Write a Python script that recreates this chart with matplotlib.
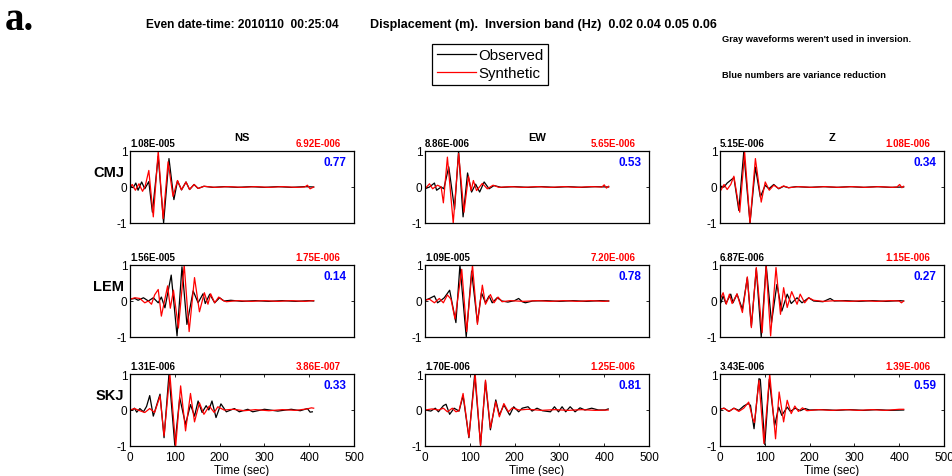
import matplotlib
matplotlib.use("Agg")
import matplotlib.pyplot as plt
import numpy as np
from matplotlib.lines import Line2D

plt.rcParams["font.family"] = ["Liberation Sans", "DejaVu Sans"]

STATIONS = ["CMJ", "LEM", "SKJ"]
COMPONENTS = ["NS", "EW", "Z"]
OBS_MAX = [["1.08E-005", "8.86E-006", "5.15E-006"],
           ["1.56E-005", "1.09E-005", "6.87E-006"],
           ["1.31E-006", "1.70E-006", "3.43E-006"]]
SYN_MAX = [["6.92E-006", "5.65E-006", "1.08E-006"],
           ["1.75E-006", "7.20E-006", "1.15E-006"],
           ["3.86E-007", "1.25E-006", "1.39E-006"]]
VAR_RED = [[0.77, 0.53, 0.34],
           [0.14, 0.78, 0.27],
           [0.33, 0.81, 0.59]]

# normalised waveforms, (time s, amplitude)
CMJ_NS_OBS = [(0, 0.03), (7, -0.02), (13, 0.11), (18, -0.09), (26, 0.14), (33, -0.05), (42, 0.15), (50, -0.7),
              (63, 0.85), (75, -1.0), (87, 0.79), (98, -0.35), (106, 0.17), (115, -0.08), (125, 0.14), (133, -0.07),
              (143, 0.07), (152, -0.04), (165, 0.02), (185, -0.01), (210, 0.01), (240, -0.01), (270, 0.01),
              (300, -0.01), (330, 0.01), (360, -0.01), (390, 0.01), (410, 0.0)]
CMJ_NS_SYN = [(0, 0.0), (5, 0.07), (12, -0.09), (20, 0.09), (28, -0.12), (34, 0.03), (42, 0.46), (52, -0.83),
              (63, 1.0), (74, -0.88), (85, 0.7), (96, -0.26), (106, 0.18), (115, -0.08), (125, 0.14), (133, -0.07),
              (143, 0.07), (152, -0.04), (165, 0.02), (190, -0.01), (220, 0.01), (250, -0.01), (280, 0.01),
              (310, -0.01), (340, 0.01), (370, -0.01), (390, 0.0), (396, 0.05), (402, -0.05), (410, 0.0)]
CMJ_EW_OBS = [(0, -0.05), (10, 0.0), (21, 0.11), (26, -0.09), (36, 0.0), (42, -0.05), (53, 0.56), (66, -0.62),
              (75, 1.0), (85, -0.83), (95, 0.39), (104, -0.14), (113, 0.08), (122, -0.14), (132, 0.14), (143, -0.05),
              (154, 0.04), (170, -0.01), (200, 0.01), (230, -0.01), (260, 0.01), (290, -0.01), (320, 0.01),
              (350, -0.01), (380, 0.01), (410, 0.0)]
CMJ_EW_SYN = [(0, -0.05), (10, 0.09), (17, -0.05), (28, 0.05), (36, 0.0), (41, -0.44), (50, 0.83), (63, -1.0),
              (75, 0.93), (87, -0.7), (97, 0.3), (103, -0.1), (108, 0.18), (115, -0.1), (128, 0.1), (139, -0.05),
              (152, 0.05), (165, -0.01), (190, 0.01), (220, -0.01), (250, 0.01), (280, -0.01), (310, 0.01),
              (340, -0.01), (370, 0.01), (395, 0.0), (400, 0.06), (405, -0.03), (410, 0.02)]
CMJ_Z_OBS = [(0, 0.0), (4, 0.02), (9, 0.0), (16, 0.11), (24, 0.19), (31, 0.26), (42, -0.65), (53, 0.97),
             (67, -1.0), (79, 0.55), (90, -0.28), (101, 0.05), (109, -0.05), (120, 0.07), (131, -0.05), (142, 0.02),
             (153, -0.02), (170, 0.01), (200, -0.01), (230, 0.01), (260, -0.01), (290, 0.01), (320, -0.01),
             (350, 0.01), (380, -0.01), (410, 0.0)]
CMJ_Z_SYN = [(0, -0.02), (2, -0.09), (9, 0.07), (16, -0.07), (24, 0.07), (31, 0.3), (44, -0.7), (55, 0.97),
             (67, -1.0), (79, 0.79), (92, -0.42), (101, 0.14), (110, -0.09), (120, 0.05), (131, -0.04), (142, 0.03),
             (153, -0.02), (175, 0.01), (205, -0.01), (235, 0.01), (265, -0.01), (295, 0.01), (325, -0.01),
             (355, 0.01), (385, -0.01), (395, 0.0), (401, 0.07), (406, -0.02), (410, 0.02)]

LEM_NS_OBS = [(0, 0.05), (11, 0.07), (18, 0.02), (30, 0.09), (41, 0.0), (52, 0.09), (63, -0.05), (70, 0.11),
              (78, -0.19), (92, 0.72), (105, -0.97), (116, 0.95), (127, -0.65), (141, 0.28), (152, -0.05), (163, 0.2),
              (168, -0.07), (178, 0.19), (189, -0.05), (200, 0.09), (210, 0.0), (225, 0.02), (250, -0.01),
              (280, 0.01), (310, -0.01), (340, 0.01), (370, -0.01), (400, 0.01), (410, 0.0)]
LEM_NS_SYN = [(0, 0.05), (11, 0.09), (22, 0.07), (33, -0.05), (41, 0.0), (48, -0.09), (55, 0.17), (63, 0.32),
              (70, -0.42), (84, 0.42), (90, -0.2), (97, 0.3), (108, -0.75), (121, 1.0), (132, -0.85), (144, 0.65),
              (155, -0.3), (166, 0.23), (174, -0.09), (180, 0.2), (189, -0.05), (198, 0.11), (207, 0.02),
              (215, -0.02), (240, 0.01), (270, -0.01), (300, 0.01), (330, -0.01), (360, 0.01), (390, -0.01),
              (410, 0.01)]
LEM_EW_OBS = [(0, 0.02), (10, 0.07), (21, 0.14), (28, -0.05), (36, 0.02), (43, 0.09), (55, 0.3), (69, -0.6),
              (78, 1.0), (92, -1.0), (104, 0.83), (117, -0.6), (126, 0.23), (135, -0.05), (143, 0.14), (150, -0.05),
              (161, 0.09), (172, 0.0), (185, -0.03), (200, 0.01), (209, 0.07), (217, -0.02), (224, -0.05),
              (240, 0.0), (270, 0.01), (300, -0.01), (330, 0.01), (360, -0.01), (390, 0.01), (410, 0.0)]
LEM_EW_SYN = [(0, 0.02), (10, 0.05), (21, -0.05), (32, 0.07), (41, -0.05), (50, 0.17), (58, 0.05), (67, -0.5),
              (82, 0.88), (93, -0.85), (106, 1.0), (117, -0.65), (128, 0.44), (135, -0.09), (146, 0.18), (154, -0.05),
              (163, 0.11), (172, -0.02), (190, 0.01), (220, -0.01), (250, 0.01), (280, -0.01), (310, 0.01),
              (340, -0.01), (370, 0.01), (400, -0.01), (410, 0.0)]
LEM_Z_OBS = [(0, -0.03), (2, -0.05), (7, 0.14), (13, -0.07), (24, 0.19), (29, -0.05), (38, 0.19), (50, -0.23),
             (61, 0.65), (70, -0.7), (81, 0.9), (92, -1.0), (103, 1.0), (115, -0.6), (127, 0.46), (138, -0.28),
             (150, 0.19), (159, -0.07), (172, 0.09), (183, -0.05), (198, 0.09), (209, 0.0), (230, -0.02),
             (246, 0.07), (255, 0.0), (280, 0.01), (310, -0.01), (340, 0.01), (370, -0.01), (400, 0.01), (410, 0.0)]
LEM_Z_SYN = [(0, 0.0), (2, 0.09), (7, 0.23), (14, -0.09), (21, 0.19), (27, -0.07), (38, 0.2), (50, -0.32),
             (61, 0.67), (70, -0.74), (81, 0.93), (94, -0.88), (103, 0.97), (113, -0.97), (125, 0.93), (135, -0.37),
             (142, 0.37), (150, -0.18), (160, 0.26), (172, -0.09), (179, 0.19), (189, -0.05), (198, 0.09),
             (209, 0.02), (230, -0.01), (260, 0.01), (290, -0.01), (320, 0.01), (350, -0.01), (380, 0.01),
             (400, 0.0), (405, -0.05), (410, 0.0)]

SKJ_NS_OBS = [(0, -0.02), (5, 0.0), (10, 0.05), (15, -0.06), (22, 0.04), (30, -0.05), (37, 0.1), (44, 0.4),
              (52, -0.17), (67, 0.44), (76, -0.77), (87, 1.0), (100, -0.98), (111, 0.34), (124, -0.4), (135, 0.15),
              (144, -0.17), (152, 0.25), (161, -0.07), (170, 0.12), (176, 0.0), (183, 0.25), (192, -0.21),
              (203, 0.17), (215, -0.05), (233, 0.04), (244, -0.05), (263, 0.02), (274, -0.05), (300, 0.02),
              (330, -0.03), (360, 0.02), (380, -0.02), (396, 0.04), (402, -0.06), (407, -0.05)]
SKJ_NS_SYN = [(0, 0.0), (10, 0.04), (22, -0.02), (33, -0.07), (44, 0.04), (55, -0.07), (67, 0.39), (76, -0.72),
              (89, 1.0), (102, -1.0), (113, 0.67), (124, -0.58), (135, 0.46), (144, -0.33), (155, 0.2), (165, -0.12),
              (177, 0.11), (188, -0.07), (196, 0.09), (210, 0.0), (230, 0.02), (255, -0.02), (280, 0.01),
              (310, -0.02), (340, 0.01), (370, -0.01), (395, 0.03), (405, 0.06), (410, 0.05)]
SKJ_EW_OBS = [(0, 0.0), (13, -0.03), (23, 0.05), (30, -0.05), (41, 0.12), (47, 0.16), (55, -0.12), (65, 0.05),
              (76, -0.03), (85, 0.4), (98, -0.77), (111, 1.0), (124, -0.97), (135, 0.79), (146, -0.55), (158, 0.28),
              (166, -0.14), (176, 0.14), (189, -0.14), (198, 0.09), (209, -0.05), (217, 0.05), (230, 0.09),
              (239, -0.03), (250, 0.05), (262, -0.02), (280, -0.05), (289, 0.09), (298, -0.05), (306, 0.09),
              (314, -0.05), (324, 0.09), (335, -0.05), (346, 0.06), (357, 0.0), (372, 0.05), (387, 0.0),
              (402, 0.0), (409, 0.03)]
SKJ_EW_SYN = [(0, 0.0), (16, 0.03), (30, 0.0), (41, 0.05), (50, -0.05), (61, 0.05), (69, -0.05), (76, -0.02),
              (85, 0.46), (98, -0.75), (112, 1.0), (124, -1.0), (135, 0.83), (146, -0.5), (158, 0.23), (166, -0.19),
              (176, 0.18), (186, -0.05), (195, 0.06), (210, 0.0), (230, 0.02), (260, -0.01), (290, 0.01),
              (320, -0.01), (350, 0.01), (380, -0.01), (409, 0.0)]
SKJ_Z_OBS = [(0, 0.02), (9, 0.05), (20, -0.04), (31, 0.05), (42, -0.01), (53, 0.11), (63, 0.18), (68, 0.13),
             (76, -0.52), (87, 0.87), (90, 0.85), (100, -0.96), (110, 0.85), (122, -0.43), (131, 0.08), (138, -0.15),
             (150, 0.08), (157, -0.04), (168, 0.05), (179, -0.02), (190, 0.04), (200, 0.0), (230, 0.01),
             (260, -0.01), (290, 0.01), (320, -0.01), (350, 0.01), (380, -0.01), (410, 0.0)]
SKJ_Z_SYN = [(0, 0.02), (9, 0.05), (20, -0.04), (31, 0.05), (42, -0.04), (53, 0.05), (64, 0.22), (73, -0.24),
             (77, -0.35), (87, 0.82), (98, -0.93), (111, 1.0), (124, -0.8), (132, 0.5), (142, -0.33), (150, 0.27),
             (159, -0.1), (167, 0.11), (175, -0.04), (184, 0.06), (194, -0.02), (220, 0.01), (250, -0.01),
             (280, 0.01), (310, -0.01), (340, 0.01), (370, -0.01), (400, 0.02), (410, 0.02)]

OBSERVED = [[CMJ_NS_OBS, CMJ_EW_OBS, CMJ_Z_OBS],
            [LEM_NS_OBS, LEM_EW_OBS, LEM_Z_OBS],
            [SKJ_NS_OBS, SKJ_EW_OBS, SKJ_Z_OBS]]
SYNTHETIC = [[CMJ_NS_SYN, CMJ_EW_SYN, CMJ_Z_SYN],
             [LEM_NS_SYN, LEM_EW_SYN, LEM_Z_SYN],
             [SKJ_NS_SYN, SKJ_EW_SYN, SKJ_Z_SYN]]

W, H = 952, 477
fig = plt.figure(figsize=(W / 100, H / 100), dpi=100)

col_left = [130, 425, 720]
row_top = [152, 266, 375]
ax_w, ax_h = 224, 72

for i in range(3):
    for j in range(3):
        x0, y0 = col_left[j], row_top[i]
        ax = fig.add_axes([x0 / W, 1 - (y0 + ax_h) / H, ax_w / W, ax_h / H])
        obs = np.array(OBSERVED[i][j])
        syn = np.array(SYNTHETIC[i][j])
        ax.plot(obs[:, 0], obs[:, 1], color="black", lw=0.9, solid_joinstyle="round")
        ax.plot(syn[:, 0], syn[:, 1], color="red", lw=0.9, solid_joinstyle="round")
        ax.set_xlim(0, 500)
        ax.set_ylim(-1, 1)
        ax.set_yticks([-1, 0, 1])
        ax.set_yticklabels(["-1", "0", "1"], fontsize=8.5)
        for s in ax.spines.values():
            s.set_linewidth(0.9)
        ax.tick_params(direction="in", length=2.5, width=0.6, pad=2, right=True)
        if i == 2:
            ax.set_xticks([0, 100, 200, 300, 400, 500])
            ax.tick_params(axis="x", top=True, labelsize=8.5, pad=3.5)
            ax.set_xlabel("Time (sec)", fontsize=8.5, labelpad=1)
        else:
            ax.set_xticks([])
        ax.text(0.0, 1.035, OBS_MAX[i][j], transform=ax.transAxes, fontsize=7,
                fontweight="bold", ha="left", va="bottom")
        ax.text(0.94, 1.035, SYN_MAX[i][j], transform=ax.transAxes, fontsize=7,
                fontweight="bold", color="red", ha="right", va="bottom")
        ax.text(0.965, 0.85, f"{VAR_RED[i][j]:.2f}", transform=ax.transAxes, fontsize=8.5,
                fontweight="bold", color="blue", ha="right", va="center")
        if j == 0:
            ax.text(-0.025, 0.71, STATIONS[i], transform=ax.transAxes, fontsize=10.5,
                    fontweight="bold", ha="right", va="center")
        if i == 0:
            ax.text(0.5, 1.19, COMPONENTS[j], transform=ax.transAxes, fontsize=8,
                    fontweight="bold", ha="center", va="center")

fig.text(5 / W, 1 - 20 / H, "a.", fontsize=28, fontweight="bold", family="Liberation Serif",
         ha="left", va="center")
fig.text(146 / W, 1 - 25 / H, "Even date-time: 2010110  00:25:04", fontsize=8.6,
         fontweight="bold", ha="left", va="center")
fig.text(370 / W, 1 - 25 / H, "Displacement (m).  Inversion band (Hz)  0.02 0.04 0.05 0.06",
         fontsize=9.0, fontweight="bold", ha="left", va="center")
fig.text(722 / W, 1 - 40 / H, "Gray waveforms weren't used in inversion.", fontsize=6.7,
         fontweight="bold", ha="left", va="center")
fig.text(722 / W, 1 - 76 / H, "Blue numbers are variance reduction", fontsize=6.7,
         fontweight="bold", ha="left", va="center")

handles = [Line2D([], [], color="black", lw=0.9), Line2D([], [], color="red", lw=0.9)]
leg = fig.legend(handles, ["Observed", "Synthetic"], loc="upper left",
                 bbox_to_anchor=(432 / W, 1 - 45 / H), fontsize=10.8, frameon=True,
                 fancybox=False, edgecolor="black", framealpha=1, borderpad=0.3,
                 handlelength=2.6, handletextpad=0.2, labelspacing=0.25, borderaxespad=0)
leg.get_frame().set_linewidth(0.9)

fig.savefig("out.png", dpi=100)
